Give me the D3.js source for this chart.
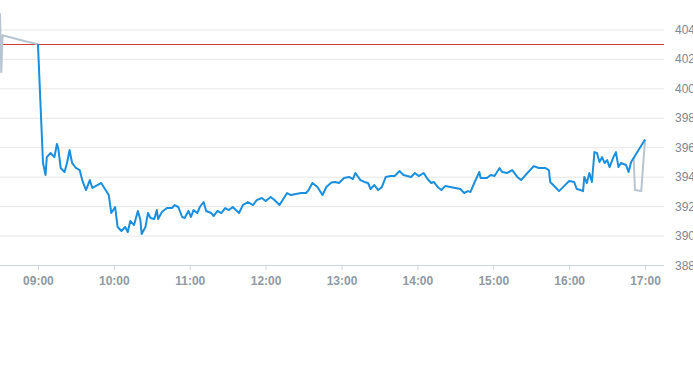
<!DOCTYPE html>
<html>
<head>
<meta charset="utf-8">
<script src="https://cdn.jsdelivr.net/npm/d3@7"></script>
<style>
  html, body { margin: 0; padding: 0; background: #fff; }
  svg text { font-family: "Liberation Sans", Arial, sans-serif; }
</style>
</head>
<body>
<div id="chart"></div>
<script>
// Intraday price chart: pre-market (grey), session (blue), after-hours (grey)

const prevClose = 403.0;
const yTicks = [388, 390, 392, 394, 396, 398, 400, 402, 404];
const xTickLabels = ['09:00', '10:00', '11:00', '12:00', '13:00', '14:00', '15:00', '16:00', '17:00'];

const preMarket = [
    ['08:30', 405.1], ['08:31', 401.1], ['08:32', 403.6], ['08:50', 403.2], ['09:00', 403.0]
];

const afterHours = [
    ['16:51', 395.27], ['16:52', 393.09], ['16:57', 393.02], ['17:00', 396.52]
];

const session = [
    ['09:00', 403.0], ['09:04', 394.93], ['09:06', 394.11], ['09:07', 395.33], ['09:10', 395.61],
    ['09:13', 395.33], ['09:15', 396.22], ['09:16', 395.95], ['09:18', 394.59], ['09:21', 394.32],
    ['09:23', 394.93], ['09:25', 395.81], ['09:27', 394.93], ['09:30', 394.59], ['09:33', 394.45],
    ['09:35', 393.77], ['09:38', 393.09], ['09:41', 393.77], ['09:43', 393.23], ['09:47', 393.43],
    ['09:50', 393.57], ['09:52', 393.30], ['09:56', 392.75], ['09:58', 391.53], ['10:01', 391.94],
    ['10:03', 390.58], ['10:06', 390.31], ['10:09', 390.58], ['10:11', 390.24], ['10:13', 390.99],
    ['10:16', 390.71], ['10:19', 391.67], ['10:21', 391.05], ['10:22', 390.10], ['10:25', 390.58],
    ['10:27', 391.53], ['10:29', 391.19], ['10:32', 391.12], ['10:34', 391.73], ['10:35', 391.12],
    ['10:38', 391.60], ['10:42', 391.87], ['10:46', 391.87], ['10:48', 392.07], ['10:51', 391.94],
    ['10:54', 391.26], ['10:56', 391.19], ['10:59', 391.67], ['11:01', 391.26], ['11:03', 391.73],
    ['11:06', 391.53], ['11:08', 391.94], ['11:11', 392.28], ['11:13', 391.67], ['11:17', 391.53],
    ['11:19', 391.33], ['11:22', 391.67], ['11:25', 391.53], ['11:28', 391.87], ['11:31', 391.73],
    ['11:34', 391.94], ['11:39', 391.53], ['11:42', 392.07], ['11:46', 392.28], ['11:50', 392.07],
    ['11:53', 392.41], ['11:57', 392.55], ['12:00', 392.35], ['12:04', 392.62], ['12:07', 392.41],
    ['12:11', 392.07], ['12:13', 392.35], ['12:17', 392.89], ['12:20', 392.75], ['12:24', 392.82],
    ['12:28', 392.89], ['12:32', 392.89], ['12:34', 393.09], ['12:37', 393.57], ['12:41', 393.30],
    ['12:45', 392.75], ['12:48', 393.30], ['12:52', 393.60], ['12:55', 393.64], ['12:58', 393.57],
    ['13:02', 393.91], ['13:06', 393.98], ['13:09', 393.84], ['13:11', 394.25], ['13:15', 393.77],
    ['13:18', 393.64], ['13:21', 393.57], ['13:23', 393.16], ['13:26', 393.43], ['13:29', 393.09],
    ['13:32', 393.30], ['13:35', 393.98], ['13:39', 394.04], ['13:42', 394.04], ['13:46', 394.38],
    ['13:49', 394.11], ['13:52', 394.04], ['13:55', 393.98], ['13:58', 394.25], ['14:01', 394.04],
    ['14:05', 394.25], ['14:08', 393.84], ['14:11', 393.57], ['14:13', 393.64], ['14:16', 393.30],
    ['14:19', 393.09], ['14:22', 393.36], ['14:26', 393.30], ['14:30', 393.23], ['14:34', 393.16],
    ['14:37', 392.89], ['14:40', 393.02], ['14:42', 392.96], ['14:45', 393.57], ['14:49', 394.32],
    ['14:50', 393.91], ['14:55', 393.91], ['14:58', 394.11], ['15:01', 394.04], ['15:05', 394.59],
    ['15:07', 394.32], ['15:11', 394.25], ['15:15', 394.45], ['15:19', 393.98], ['15:22', 393.77],
    ['15:27', 394.25], ['15:32', 394.72], ['15:36', 394.59], ['15:41', 394.59], ['15:44', 394.45],
    ['15:45', 393.64], ['15:49', 393.30], ['15:52', 393.02], ['15:56', 393.36], ['16:00', 393.70],
    ['16:04', 393.64], ['16:06', 393.16], ['16:09', 393.09], ['16:11', 393.02], ['16:12', 393.98],
    ['16:14', 393.57], ['16:16', 394.25], ['16:18', 393.64], ['16:20', 395.67], ['16:22', 395.61],
    ['16:24', 394.99], ['16:26', 395.33], ['16:28', 394.93], ['16:30', 395.13], ['16:32', 394.65],
    ['16:35', 395.33], ['16:37', 395.67], ['16:39', 394.65], ['16:41', 394.93], ['16:45', 394.79],
    ['16:47', 394.32], ['16:49', 394.99], ['16:51', 395.27], ['17:00', 396.52]
];

const width = 693;
const height = 365;
const plotWidth = 664;
const plotHeight = 265;

const parseTime = d3.timeParse('%H:%M');

const x = d3.scaleTime()
    .domain([parseTime('08:30'), parseTime('17:15')])
    .range([0, plotWidth]);

const y = d3.scaleLinear()
    .domain([388, 406])
    .range([plotHeight, 0]);

const svg = d3.select('#chart').append('svg')
    .attr('width', width)
    .attr('height', height);

// Horizontal gridlines + right-hand price labels
const yAxis = d3.axisRight(y)
    .tickValues(yTicks)
    .tickSize(plotWidth)
    .tickFormat(d3.format('d'));

svg.append('g')
    .attr('class', 'y-axis')
    .call(yAxis)
    .call(g => g.select('.domain').remove())
    .call(g => g.selectAll('.tick line')
        .attr('stroke', d => d === 388 ? '#ccd5de' : '#e6e6e6')
        .attr('stroke-width', 1))
    .call(g => g.selectAll('.tick text')
        .attr('x', plotWidth + 11)
        .attr('dy', '0.34em')
        .style('font-size', '12px')
        .style('fill', '#7d8894'));

// Bottom time axis
const xAxis = d3.axisBottom(x)
    .tickValues(xTickLabels.map(parseTime))
    .tickSize(5)
    .tickPadding(6)
    .tickFormat(d3.timeFormat('%H:%M'));

svg.append('g')
    .attr('class', 'x-axis')
    .attr('transform', `translate(0,${plotHeight})`)
    .call(xAxis)
    .call(g => g.select('.domain')
        .attr('stroke', '#ccd5de')
        .attr('d', `M0,0.5H${plotWidth}`))
    .call(g => g.selectAll('.tick line').attr('stroke', '#ccd5de'))
    .call(g => g.selectAll('.tick text')
        .style('font-size', '12px')
        .style('font-weight', 'bold')
        .style('fill', '#8f99a4'));

// Previous close reference line
svg.append('line')
    .attr('class', 'prev-close')
    .attr('x1', 0)
    .attr('x2', plotWidth)
    .attr('y1', Math.round(y(prevClose)) + 0.5)
    .attr('y2', Math.round(y(prevClose)) + 0.5)
    .attr('stroke', '#d33a3a')
    .attr('stroke-width', 1);

const line = d3.line()
    .x(d => x(parseTime(d[0])))
    .y(d => y(d[1]));

svg.append('path')
    .datum(preMarket)
    .attr('fill', 'none')
    .attr('stroke', '#b8c4d0')
    .attr('stroke-width', 2)
    .attr('stroke-linejoin', 'round')
    .attr('d', line);

svg.append('path')
    .datum(afterHours)
    .attr('fill', 'none')
    .attr('stroke', '#b8c4d0')
    .attr('stroke-width', 2)
    .attr('stroke-linejoin', 'round')
    .attr('d', line);

svg.append('path')
    .datum(session)
    .attr('fill', 'none')
    .attr('stroke', '#1a8fdd')
    .attr('stroke-width', 2)
    .attr('stroke-linejoin', 'round')
    .attr('d', line);
</script>
</body>
</html>
